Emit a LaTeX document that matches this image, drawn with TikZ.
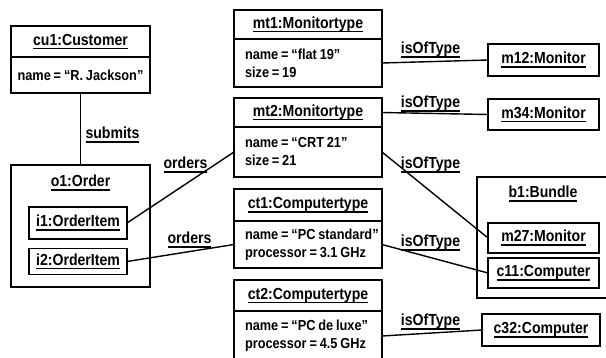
\documentclass[tikz,border=0pt]{standalone}
\usepackage{fontspec}
\setmainfont{Liberation Sans}[FakeStretch=0.88,WordSpace=0.8]
\usetikzlibrary{positioning}

\newcommand{\uname}[1]{\setbox0=\hbox{#1}\rlap{\rule[-4pt]{\wd0}{1.3pt}}\box0}

\tikzset{
  every node/.style={font=\bfseries\fontsize{16}{18}\selectfont},
  box/.style={draw,line width=1.8pt,inner sep=0pt,outer sep=0pt},
  attrfont/.style={font=\bfseries\fontsize{14.5}{18}\selectfont},
  attrs/.style={box,attrfont,minimum width=148pt,text width=126pt,inner xsep=11pt,align=flush left},
  link/.style={line width=1.4pt}
}

\begin{document}
\begin{tikzpicture}[x=1pt,y=-1pt]
  \useasboundingbox[fill=white] (0,0) rectangle (606,358);
  % customer and order
  \node[box,minimum width=139pt,minimum height=31pt](cu1)at(80.5,41.5){\uname{cu1:Customer}};
  \node[box,attrfont,minimum width=139pt,minimum height=36pt,below=0pt of cu1](cu1a){name = “R. Jackson”};
  \node[box,minimum width=139pt,minimum height=122pt](o1)at(80.5,226){};
  \node(o1n)at(80.5,183){\uname{o1:Order}};
  \node[box,minimum width=98pt,minimum height=32pt](i1)at(78,223){\uname{i1:OrderItem}};
  \node[box,minimum width=98pt,minimum height=26pt](i2)at(78,261.5){\uname{i2:OrderItem}};
  % types
  \node[box,minimum width=148pt,minimum height=29pt](mt1)at(308,24.5){\uname{mt1:Monitortype}};
  \node[attrs,minimum height=48pt,below=0pt of mt1](mt1a){name = “flat 19”\\size = 19};
  \node[box,minimum width=148pt,minimum height=29pt](mt2)at(308,112.5){\uname{mt2:Monitortype}};
  \node[attrs,minimum height=50pt,below=0pt of mt2](mt2a){name = “CRT 21”\\size = 21};
  \node[box,minimum width=148pt,minimum height=32pt](ct1)at(308,205){\uname{ct1:Computertype}};
  \node[attrs,minimum height=47pt,below=0pt of ct1](ct1a){\mbox{name = “PC standard”}\\\mbox{processor = 3.1 GHz}};
  \node[box,minimum width=148pt,minimum height=31pt](ct2)at(308,295.5){\uname{ct2:Computertype}};
  \node[attrs,minimum height=50pt,below=0pt of ct2](ct2a){\mbox{name = “PC de luxe”}\\\mbox{processor = 4.5 GHz}};
  % instances
  \node[box,minimum width=111pt,minimum height=32pt](m12)at(543.5,60){\uname{m12:Monitor}};
  \node[box,minimum width=111pt,minimum height=31pt](m34)at(543.5,114.5){\uname{m34:Monitor}};
  \node[box,minimum width=140pt,minimum height=121pt,anchor=north west](b1)at(477,177){};
  \node(b1n)at(543,194){\uname{b1:Bundle}};
  \node[box,minimum width=111pt,minimum height=30pt](m27)at(543.5,238){\uname{m27:Monitor}};
  \node[box,minimum width=111pt,minimum height=30pt](c11)at(543.5,273){\uname{c11:Computer}};
  \node[box,minimum width=118pt,minimum height=32pt](c32)at(541,330){\uname{c32:Computer}};
  % links
  \draw[link](cu1a)--(o1);
  \draw[link](i1.east)--(mt2a.west);
  \draw[link](i2.east)--(ct1a.west);
  \foreach \a/\b in {mt1a/m12,mt2/m34,mt2a/m27,ct1a/c11,ct2a/c32}
    \draw[link](\a.east)--(\b.west);
  \node(sub)at(112.5,135){\uname{submits}};
  \node(ord1)at(185.5,165){\uname{orders}};
  \node(ord2)at(189.5,240){\uname{orders}};
  \foreach \n/\y in {1/50,2/104,3/165,4/243,5/322}
    \node(iot\n)at(430.5,\y){\uname{isOfType}};
\end{tikzpicture}
\end{document}
